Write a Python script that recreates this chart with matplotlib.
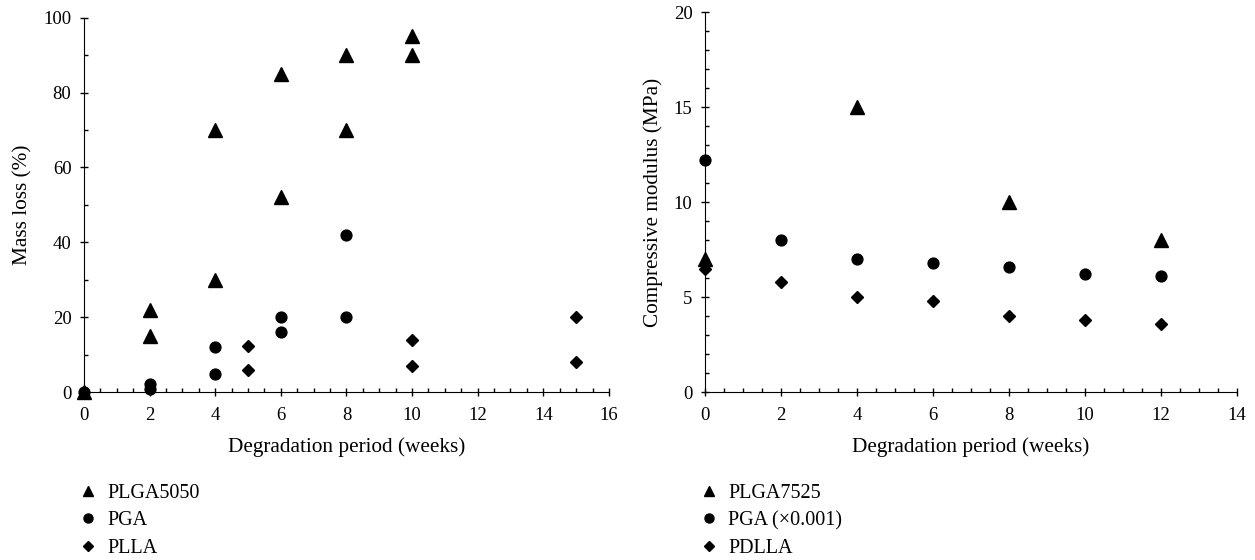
import matplotlib
matplotlib.use("Agg")
import matplotlib.pyplot as plt
from matplotlib.ticker import MultipleLocator
from matplotlib.lines import Line2D

# left panel: mass loss (%)
plga5050_wk = [0, 2, 2, 4, 4, 6, 6, 8, 8, 10, 10]
plga5050_val = [0, 22, 15, 70, 30, 85, 52, 90, 70, 95, 90]
pga_l_wk = [0, 2, 2, 4, 4, 6, 6, 8, 8]
pga_l_val = [0, 2.2, 0.9, 12, 5, 20, 16, 42, 20]
plla_wk = [5, 5, 10, 10, 15, 15]
plla_val = [12.4, 6, 14, 6.9, 20, 8]

# right panel: compressive modulus (MPa)
plga7525_wk = [0, 4, 8, 12]
plga7525_val = [7, 15, 10, 8]
pga_r_wk = [0, 2, 4, 6, 8, 10, 12]
pga_r_val = [12.2, 8, 7, 6.8, 6.6, 6.2, 6.1]
pdlla_wk = [0, 2, 4, 6, 8, 10, 12]
pdlla_val = [6.5, 5.8, 5.0, 4.8, 4.0, 3.8, 3.6]

left_labels = ["PLGA5050", "PGA", "PLLA"]
right_labels = ["PLGA7525", "PGA (\u00d70.001)", "PDLLA"]

plt.rcParams["font.family"] = ["Liberation Serif", "DejaVu Serif"]
plt.rcParams["font.size"] = 13.5

fig = plt.figure(figsize=(12.55, 5.6), dpi=100)
ax1 = fig.add_axes([0.0669, 0.2995, 0.4183, 0.669])
ax2 = fig.add_axes([0.5618, 0.2995, 0.4237, 0.6786])

mk = dict(linestyle="none", color="black", clip_on=False, zorder=3)
tri = dict(marker="^", markersize=9.5)
circ = dict(marker="o", markersize=7.8)
dia = dict(marker="D", markersize=6.3)

ax1.plot(plga5050_wk, plga5050_val, **tri, **mk)
ax1.plot(pga_l_wk, pga_l_val, **circ, **mk)
ax1.plot(plla_wk, plla_val, **dia, **mk)

ax2.plot(plga7525_wk, plga7525_val, **tri, **mk)
ax2.plot(pga_r_wk, pga_r_val, **circ, **mk)
ax2.plot(pdlla_wk, pdlla_val, **dia, **mk)


def style(ax, xmax, ymax, ymaj, ymin, ylabel):
    ax.set_xlim(0, xmax)
    ax.set_ylim(0, ymax)
    for s in ["top", "right"]:
        ax.spines[s].set_visible(False)
    ax.xaxis.set_major_locator(MultipleLocator(2))
    ax.xaxis.set_minor_locator(MultipleLocator(0.5))
    ax.yaxis.set_major_locator(MultipleLocator(ymaj))
    ax.yaxis.set_minor_locator(MultipleLocator(ymin))
    ax.tick_params(which="major", direction="inout", length=6, width=1, pad=6)
    ax.tick_params(axis="x", which="major", pad=7.5)
    ax.tick_params(which="minor", direction="in", length=3, width=1)
    ax.set_xlabel("Degradation period (weeks)", fontsize=15.3, labelpad=10)
    ax.set_ylabel(ylabel, fontsize=15.3, labelpad=8)


style(ax1, 16, 100, 20, 10, "Mass loss (%)")
style(ax2, 14, 20, 5, 1, "Compressive modulus (MPa)")


def handles():
    return [Line2D([], [], color="black", linestyle="none", marker="^", markersize=7),
            Line2D([], [], color="black", linestyle="none", marker="o", markersize=6.5),
            Line2D([], [], color="black", linestyle="none", marker="D", markersize=5)]


leg_kw = dict(loc="upper left", frameon=False, handlelength=0.8, handletextpad=0.55,
              labelspacing=0.43, borderaxespad=0, borderpad=0, fontsize=14.5)
fig.legend(handles(), left_labels, bbox_to_anchor=(0.0637, 0.1366), **leg_kw)
fig.legend(handles(), right_labels, bbox_to_anchor=(0.5586, 0.1366), **leg_kw)

fig.savefig("out.png", dpi=100)
